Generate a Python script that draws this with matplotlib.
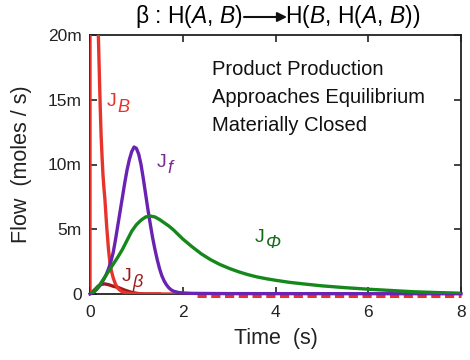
import matplotlib
matplotlib.use('Agg')
import matplotlib.pyplot as plt

plt.rcParams['font.family'] = ['Liberation Sans', 'DejaVu Sans']
plt.rcParams['mathtext.fontset'] = 'custom'
plt.rcParams['mathtext.rm'] = 'Liberation Sans'
plt.rcParams['mathtext.it'] = 'Liberation Sans:italic'

# data, flows in milli-moles / s
t_B = [0, 0.002, 0.1, 0.18, 0.2, 0.22, 0.24, 0.26, 0.28, 0.3, 0.32, 0.34, 0.36, 0.38, 0.4,
       0.43, 0.46, 0.5, 0.55, 0.6, 0.65, 0.7, 0.8, 0.9, 1.0, 1.2, 2.3]
J_B = [0, 90, 35, 20, 17.2, 14.5, 12.2, 10.6, 9.2, 8.2, 7.4, 6.3, 5.2, 4.3, 3.4,
       2.4, 1.8, 1.25, 0.75, 0.45, 0.28, 0.17, 0.07, 0.03, 0.01, 0, 0]
t_B_tail = [2.3, 8.0]
J_B_tail = [-0.12, -0.12]

t_f = [0, .05, .1, .15, .2, .25, .3, .35, .4, .45, .5, .55, .6, .65, .7, .75, .8, .85, .9, .95,
       1.0, 1.05, 1.1, 1.15, 1.2, 1.25, 1.3, 1.35, 1.4, 1.45, 1.5, 1.55, 1.6, 1.65, 1.7, 1.75,
       1.8, 1.9, 2.0, 2.2, 2.5, 3.0, 8.0]
J_f = [0, .08, .2, .38, .6, .85, 1.15, 1.5, 1.95, 2.5, 3.2, 4.2, 5.3, 6.4, 7.5, 8.6, 9.6, 10.4, 11.0, 11.35,
       11.25, 10.8, 10.0, 8.9, 7.7, 6.5, 5.4, 4.35, 3.45, 2.65, 1.95, 1.4, 1.0, 0.7, 0.48, 0.32,
       0.22, 0.12, 0.08, 0.05, 0.04, 0.03, 0.02]

t_phi = [0, .05, .1, .2, .3, .4, .5, .6, .7, .8, .9, 1.0, 1.1, 1.2, 1.3, 1.4, 1.5, 1.6, 1.7, 1.8,
         1.9, 2.0, 2.2, 2.4, 2.6, 2.8, 3.0, 3.2, 3.4, 3.6, 3.8, 4.0, 4.3, 4.6, 5.0, 5.5, 6.0,
         6.5, 7.0, 7.5, 8.0]
J_phi = [0, .08, .25, .65, 1.2, 1.75, 2.3, 2.85, 3.45, 4.15, 4.85, 5.35, 5.7, 5.95, 6.02, 5.95,
         5.75, 5.5, 5.25, 4.95, 4.6, 4.25, 3.65, 3.1, 2.65, 2.28, 1.98, 1.72, 1.5, 1.32, 1.18,
         1.06, 0.9, 0.78, 0.63, 0.49, 0.37, 0.27, 0.17, 0.11, 0.06]

t_beta = [0, 0.05, 0.12, 0.18, 0.25, 0.32, 0.4, 0.5, 0.61, 0.75, 0.9, 1.05, 1.2, 1.5]
J_beta = [0, 0.15, 0.4, 0.62, 0.75, 0.78, 0.72, 0.6, 0.5, 0.3, 0.12, 0.03, 0.0, 0.0]

x_ticks = [0, 2, 4, 6, 8]
y_ticks = [0, 5, 10, 15, 20]
y_labels = ['0', '5m', '10m', '15m', '20m']

c_B = '#e8332b'
c_f = '#6a22b3'
c_phi = '#14881a'
c_beta = '#9e1b1b'
ink = '#222222'

fig = plt.figure(figsize=(4.7, 3.6), dpi=100)
ax = fig.add_axes([90/470, 1-294/360, 371/470, 259/360])

lw = 2.4
ax.plot(t_beta, J_beta, color=c_beta, lw=lw, zorder=3)
ax.plot(t_B, J_B, color=c_B, lw=lw, zorder=4)
ax.plot(t_B_tail, J_B_tail, color=c_B, lw=2.2, ls=(0, (3, 1.5)), zorder=4, clip_on=False)
ax.plot(t_f, J_f, color=c_f, lw=lw, zorder=5, clip_on=False)
ax.plot(t_phi, J_phi, color=c_phi, lw=lw, zorder=6)

ax.set_xlim(0, 8)
ax.set_ylim(0, 20)
ax.set_xticks(x_ticks)
ax.set_yticks(y_ticks)
ax.set_yticklabels(y_labels)
ax.tick_params(direction='in', top=True, right=True, length=5, width=1.2,
               labelsize=12.5, colors=ink)
ax.tick_params(axis='x', pad=8)
ax.tick_params(axis='y', pad=6)
for s in ax.spines.values():
    s.set_linewidth(1.3)
    s.set_color(ink)

ax.set_xlabel('Time  (s)', fontsize=15.5, labelpad=6, color=ink)
ax.set_ylabel('Flow  (moles / s)', fontsize=15.5, color=ink)
ax.yaxis.set_label_coords(-0.155, 0.5)


def flow_label(x, y, sub, color):
    ax.text(x, y, 'J', color=color, fontsize=14, va='baseline')
    ax.annotate(sub, xy=(x, y), xytext=(7.5, -4.5), textcoords='offset points',
                color=color, fontsize=13, va='baseline', style='italic')


flow_label(0.37, 14.5, 'B', c_B)
flow_label(1.44, 9.8, 'f', '#7a2a90')
flow_label(0.69, 1.0, 'β', c_beta)
flow_label(3.56, 4.0, 'Φ', '#156b1a')

for txt, yv in [('Product Production', 17.3), ('Approaches Equilibrium', 15.15),
                ('Materially Closed', 13.0)]:
    ax.text(2.63, yv, txt, fontsize=14.5, va='center', color='#111111')

# title
ty = 1 - 17/360
fig.text(243/470, ty, r'β : H($A$, $B$)', fontsize=16.5, va='center', ha='right')
ax.annotate('', xy=(287/470, ty), xytext=(244/470, ty), xycoords='figure fraction',
            arrowprops=dict(arrowstyle='-|>', color='#111111', lw=1.5, mutation_scale=14,
                            shrinkA=0, shrinkB=0))
fig.text(285/470, ty, r'H($B$, H($A$, $B$))', fontsize=16.5, va='center', ha='left')

fig.savefig('out.png', dpi=100)
